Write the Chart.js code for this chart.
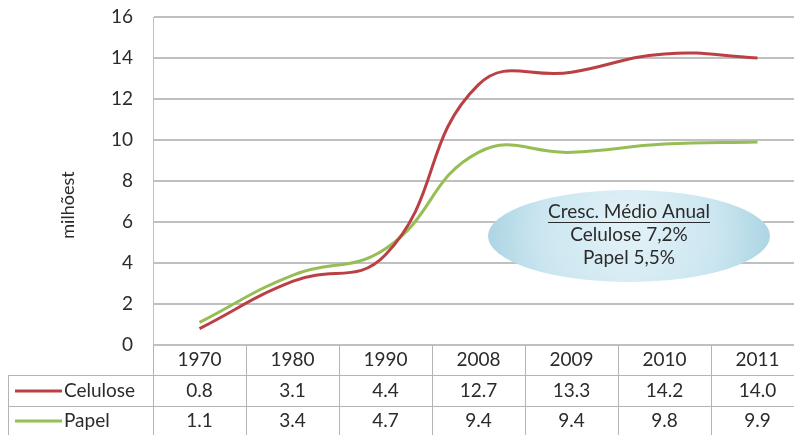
<!DOCTYPE html>
<html>
<head>
<meta charset="utf-8">
<script src="https://cdn.jsdelivr.net/npm/chart.js@4"></script>
<style>
  html, body { margin: 0; padding: 0; background: #fff; }
  #wrap { width: 794px; height: 435px; overflow: hidden; position: relative; }
</style>
</head>
<body>
<div id="wrap"><canvas id="chart" width="812" height="435"></canvas></div>
<script>
const years = ['1970', '1980', '1990', '2008', '2009', '2010', '2011'];
const celulose = [0.8, 3.1, 4.4, 12.7, 13.3, 14.2, 14.0];
const papel = [1.1, 3.4, 4.7, 9.4, 9.4, 9.8, 9.9];
const yTicks = [0, 2, 4, 6, 8, 10, 12, 14, 16];
const yTitle = 'milhõest';
const noteLines = ['Cresc. Médio Anual', 'Celulose 7,2%', 'Papel 5,5%'];

const FONT = 'Lato, "Open Sans", sans-serif';
const TEXT = '#2b2b2b';
const GRID = '#c0c0c0';
const RED = '#bb4044';
const GREEN = '#96be55';

// data table under the plot, plus the y title
const tablePlugin = {
    id: 'dataTable',
    afterDraw(chart) {
        const ctx = chart.ctx;
        const x = chart.scales.x;
        const area = chart.chartArea;
        const band = x.width / years.length;
        const top = area.bottom;
        const r1 = top + 30, r2 = r1 + 31;
        const bottom = chart.height;

        ctx.save();
        ctx.strokeStyle = '#b4b4b4';
        ctx.lineWidth = 1;
        ctx.beginPath();
        for (let i = 0; i <= years.length; i++) {
            const bx = Math.round(area.left + i * band) + 0.5;
            ctx.moveTo(bx, top);
            ctx.lineTo(bx, bottom);
        }
        ctx.moveTo(8.5, r1);
        ctx.lineTo(8.5, bottom);
        ctx.moveTo(8, r1 + 0.5);
        ctx.lineTo(chart.width, r1 + 0.5);
        ctx.moveTo(8, r2 + 0.5);
        ctx.lineTo(chart.width, r2 + 0.5);
        ctx.stroke();

        ctx.fillStyle = TEXT;
        ctx.font = '19px ' + FONT;
        ctx.textAlign = 'center';
        ctx.textBaseline = 'middle';
        years.forEach((y, i) => {
            const cx = x.getPixelForValue(i);
            ctx.fillText(y, cx, top + 15);
            ctx.fillText(celulose[i].toFixed(1), cx, r1 + 16);
            ctx.fillText(papel[i].toFixed(1), cx, r2 + 15);
        });

        // legend keys in the first column
        [[chart.data.datasets[0], r1 + 16], [chart.data.datasets[1], r2 + 15]].forEach(([ds, cy]) => {
            ctx.strokeStyle = ds.borderColor;
            ctx.lineWidth = 3;
            ctx.beginPath();
            ctx.moveTo(15, cy);
            ctx.lineTo(62, cy);
            ctx.stroke();
            ctx.textAlign = 'left';
            ctx.fillText(ds.label, 64, cy);
        });

        // y axis title
        ctx.translate(68, 205);
        ctx.rotate(-Math.PI / 2);
        ctx.textAlign = 'center';
        ctx.font = '18px ' + FONT;
        ctx.fillText(yTitle, 0, 0);
        ctx.restore();
    }
};

// the blue ellipse note
const notePlugin = {
    id: 'note',
    beforeDatasetsDraw(chart) {
        const ctx = chart.ctx;
        const cx = 629, cy = 236, rx = 141, ry = 46;
        ctx.save();
        const g = ctx.createRadialGradient(cx, cy - 10, 10, cx, cy, rx);
        g.addColorStop(0, '#e2f1f7');
        g.addColorStop(0.6, '#cbe6f0');
        g.addColorStop(1, '#add5e4');
        ctx.fillStyle = g;
        ctx.beginPath();
        ctx.ellipse(cx, cy, rx, ry, 0, 0, Math.PI * 2);
        ctx.fill();

        ctx.fillStyle = TEXT;
        ctx.font = '19px ' + FONT;
        ctx.textAlign = 'center';
        ctx.textBaseline = 'middle';
        noteLines.forEach((t, i) => {
            ctx.fillText(t, cx, 212 + i * 23);
        });
        const w = ctx.measureText(noteLines[0]).width;
        ctx.strokeStyle = TEXT;
        ctx.lineWidth = 1;
        ctx.beginPath();
        ctx.moveTo(cx - w / 2, 222.5);
        ctx.lineTo(cx + w / 2, 222.5);
        ctx.stroke();
        ctx.restore();
    }
};

const ctxMain = document.getElementById('chart').getContext('2d');
const mainChart = new Chart(ctxMain, {
    type: 'line',
    data: {
        labels: years,
        datasets: [{
            label: 'Celulose',
            data: celulose,
            borderColor: RED,
            borderWidth: 3,
            pointRadius: 0,
            tension: 0.45,
        }, {
            label: 'Papel',
            data: papel,
            borderColor: GREEN,
            borderWidth: 3,
            pointRadius: 0,
            tension: 0.45,
        }]
    },
    options: {
        responsive: false,
        animation: false,
        layout: {
            padding: { top: 17, right: 8, bottom: 82, left: 0 },
        },
        scales: {
            x: {
                offset: true,
                grid: { display: false },
                ticks: { display: false },
                border: { color: GRID, width: 1 },
            },
            y: {
                min: 0,
                max: 16,
                afterBuildTicks: (scale) => {
                    scale.ticks = yTicks.map(v => ({ value: v }));
                },
                afterFit: (scale) => {
                    scale.width = 153;
                    scale.paddingTop = 0;
                    scale.paddingBottom = 0;
                },
                grid: { color: GRID, lineWidth: 2, drawTicks: false },
                border: { color: GRID, width: 1 },
                ticks: {
                    padding: 20,
                    color: TEXT,
                    font: { family: FONT, size: 19 },
                },
            },
        },
        plugins: {
            legend: { display: false },
            tooltip: { enabled: false },
        },
    },
    plugins: [tablePlugin, notePlugin],
});
</script>
</body>
</html>
